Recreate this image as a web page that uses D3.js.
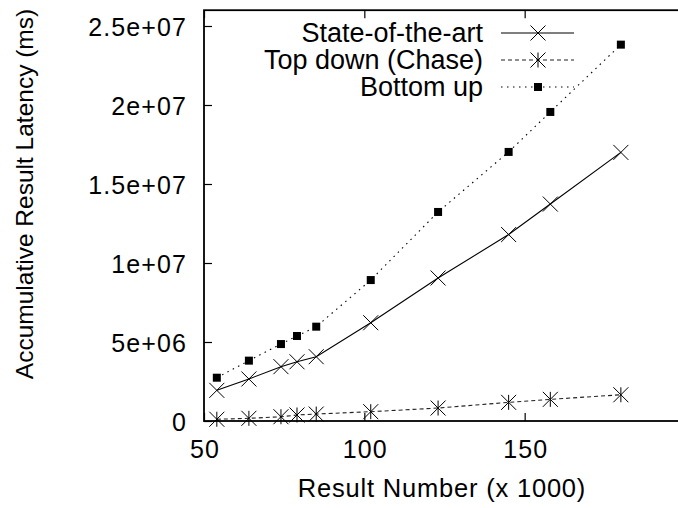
<!DOCTYPE html>
<html>
<head>
<meta charset="utf-8">
<script src="https://cdn.jsdelivr.net/npm/d3@7"></script>
<style>
  body { margin: 0; background: #fff; }
  svg { display: block; overflow: hidden; }
  text { font-family: "Liberation Sans", Arial, sans-serif; fill: #000; }
</style>
</head>
<body>
<div id="vis"></div>
<script>
const FRAME_WIDTH = 678;
const FRAME_HEIGHT = 508;

// data
const RESULT_NUMBER = [54, 64, 74, 79, 85, 102, 123, 145, 158, 180];
const STATE_OF_ART = [1.94e6, 2.66e6, 3.44e6, 3.75e6, 4.07e6, 6.22e6, 9.05e6, 1.18e7, 1.373e7, 1.70e7];
const TOP_DOWN = [1.1e5, 1.7e5, 2.7e5, 3.8e5, 4.4e5, 5.9e5, 8.2e5, 1.18e6, 1.37e6, 1.66e6];
const BOTTOM_UP = [2.74e6, 3.82e6, 4.87e6, 5.38e6, 5.97e6, 8.92e6, 1.323e7, 1.703e7, 1.956e7, 2.382e7];
const SERIES_NAMES = ["State-of-the-art", "Top down (Chase)", "Bottom up"];
const X_TICKS = [50, 100, 150];
const Y_TICKS = [0, 5e6, 1e7, 1.5e7, 2e7, 2.5e7];

const FRAME = d3.select("#vis")
  .append("svg")
    .attr("width", FRAME_WIDTH)
    .attr("height", FRAME_HEIGHT);

// plot box (right edge falls just outside the picture)
const X_SCALE = d3.scaleLinear().domain([50, 200]).range([204, 685]);
const Y_SCALE = d3.scaleLinear().domain([0, 2.6e7]).range([421, 10.2]);

function fmt(v) {
  if (v === 0) return "0";
  return v.toExponential().replace(/e\+(\d)$/, "e+0$1");
}

// y axis, inward ticks
const yAxis = FRAME.append("g")
  .attr("transform", "translate(204,0)")
  .call(d3.axisLeft(Y_SCALE).tickValues(Y_TICKS).tickSize(-8).tickPadding(17).tickFormat(fmt));
yAxis.select(".domain").remove();
yAxis.selectAll("text")
  .attr("font-size", "25px")
  .attr("letter-spacing", "1.1px")
  .attr("dy", "0.36em");

// x axis, inward ticks
const xAxis = FRAME.append("g")
  .attr("transform", "translate(0,421)")
  .call(d3.axisBottom(X_SCALE).tickValues(X_TICKS).tickSize(-8).tickPadding(19));
xAxis.select(".domain").remove();
xAxis.selectAll("text")
  .attr("font-size", "25px")
  .attr("letter-spacing", "1.1px")
  .attr("dx", "0.5px");

// mirrored ticks on top
const topAxis = FRAME.append("g")
  .attr("transform", "translate(0," + Y_SCALE(2.6e7) + ")")
  .call(d3.axisTop(X_SCALE).tickValues(X_TICKS).tickSize(-8).tickFormat(""));
topAxis.select(".domain").remove();

FRAME.selectAll(".tick line").attr("stroke", "#000").attr("stroke-width", 1.2);

// frame
FRAME.append("rect")
  .attr("x", X_SCALE(50))
  .attr("y", Y_SCALE(2.6e7))
  .attr("width", X_SCALE(200) - X_SCALE(50))
  .attr("height", Y_SCALE(0) - Y_SCALE(2.6e7))
  .attr("fill", "none")
  .attr("stroke", "#000")
  .attr("stroke-width", 1.8);

// axis titles
FRAME.append("text")
  .attr("transform", "translate(33,194) rotate(-90)")
  .attr("text-anchor", "middle")
  .attr("font-size", "24.5px")
  .text("Accumulative Result Latency (ms)");

FRAME.append("text")
  .attr("x", 442)
  .attr("y", 497)
  .attr("text-anchor", "middle")
  .attr("font-size", "25.5px")
  .attr("letter-spacing", "0.8px")
  .text("Result Number (x 1000)");

// markers
function drawCross(g, cx, cy) {
  const r = 7.5;
  g.append("path")
    .attr("d", `M${cx - r},${cy - r}L${cx + r},${cy + r}M${cx - r},${cy + r}L${cx + r},${cy - r}`)
    .attr("stroke", "#000").attr("stroke-width", 1).attr("fill", "none");
}
function drawStar(g, cx, cy) {
  const r = 7.5;
  g.append("path")
    .attr("d", `M${cx - r},${cy - r}L${cx + r},${cy + r}M${cx - r},${cy + r}L${cx + r},${cy - r}M${cx},${cy - r}L${cx},${cy + r}`)
    .attr("stroke", "#000").attr("stroke-width", 1).attr("fill", "none");
}
function drawSquare(g, cx, cy) {
  g.append("rect")
    .attr("x", cx - 4).attr("y", cy - 4)
    .attr("width", 8).attr("height", 8)
    .attr("fill", "#000");
}

const SERIES = [
  {name: SERIES_NAMES[0], values: STATE_OF_ART, dash: null, color: "#000", marker: drawCross},
  {name: SERIES_NAMES[1], values: TOP_DOWN, dash: "4,3", color: "#222", marker: drawStar},
  {name: SERIES_NAMES[2], values: BOTTOM_UP, dash: "1.5,4.5", color: "#000", marker: drawSquare}
];

const line = d3.line()
  .x((d) => X_SCALE(d[0]))
  .y((d) => Y_SCALE(d[1]));

SERIES.forEach((s) => {
  const pts = RESULT_NUMBER.map((x, i) => [x, s.values[i]]);
  const g = FRAME.append("g");
  g.append("path")
    .datum(pts)
    .attr("d", line)
    .attr("fill", "none")
    .attr("stroke", s.color)
    .attr("stroke-width", 1.1)
    .attr("stroke-dasharray", s.dash);
  pts.forEach((p) => s.marker(g, X_SCALE(p[0]), Y_SCALE(p[1])));
});

// legend
SERIES.forEach((s, i) => {
  const y = 33 + i * 27;
  const g = FRAME.append("g");
  g.append("text")
    .attr("x", 483)
    .attr("y", y + 9)
    .attr("text-anchor", "end")
    .attr("font-size", "27px")
    .text(s.name);
  g.append("line")
    .attr("x1", 501).attr("x2", 574)
    .attr("y1", y).attr("y2", y)
    .attr("stroke", s.color)
    .attr("stroke-width", 1.1)
    .attr("stroke-dasharray", s.dash);
  s.marker(g, 538, y);
});
</script>
</body>
</html>
